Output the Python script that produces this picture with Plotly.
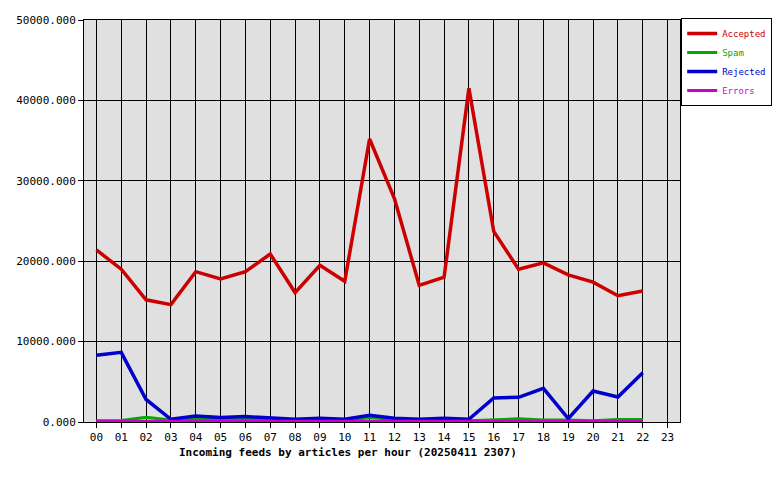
import plotly.graph_objects as go

hours = [f"{h:02d}" for h in range(24)]
data_hours = hours[:23]

accepted = [21400, 19000, 15200, 14600, 18700, 17800, 18700, 20900, 16100, 19500,
            17500, 35200, 27800, 17000, 18000, 41500, 23700, 19000, 19800, 18300,
            17400, 15700, 16300]
spam = [150, 200, 600, 250, 350, 300, 450, 300, 200, 250, 200, 550, 300, 200, 250,
        150, 250, 400, 250, 250, 150, 300, 300]
rejected = [8300, 8660, 2800, 340, 750, 550, 670, 460, 340, 460, 340, 830, 460,
            340, 460, 340, 2990, 3070, 4190, 420, 3860, 3110, 6140]
errors = [100] * 23

series = [
    ("Accepted", accepted, "#cc0000", 3.5),
    ("Spam", spam, "#00aa00", 3),
    ("Rejected", rejected, "#0000cc", 3.5),
    ("Errors", errors, "#cc00cc", 3),
]

fig = go.Figure()
for name, vals, color, w in series:
    fig.add_trace(go.Scatter(
        x=data_hours, y=vals, mode="lines",
        name=f"<span style='color:{color}'>{name}</span>",
        line=dict(color=color, width=w),
    ))

font = "DejaVu Sans Mono, Liberation Mono, monospace"
fig.update_layout(
    width=772, height=472,
    margin=dict(l=76, r=100, t=12, b=58, autoexpand=False),
    paper_bgcolor="white", plot_bgcolor="#e0e0e0",
    font=dict(family=font, size=11, color="black"),
    showlegend=True,
    legend=dict(x=1.002, y=1.005, xanchor="left", yanchor="top",
                bordercolor="black", borderwidth=1, bgcolor="white",
                font=dict(family=font, size=9),
                tracegroupgap=0, itemwidth=30),
    xaxis=dict(type="category", categoryorder="array", categoryarray=hours,
               tickvals=hours, range=[-0.5, 23.5],
               showgrid=True, gridcolor="black", gridwidth=1,
               showline=True, linecolor="black", mirror=True,
               ticks="outside", ticklen=5, tickcolor="black",
               zeroline=False),
    yaxis=dict(range=[0, 50000], dtick=10000, tickformat=".3f",
               showgrid=True, gridcolor="black", gridwidth=1,
               showline=True, linecolor="black", mirror=True,
               ticks="outside", ticklen=5, tickcolor="black",
               zeroline=False),
    annotations=[dict(text="<b>Incoming feeds by articles per hour (20250411 2307)</b>",
                      xref="paper", yref="paper", x=0.443, y=-0.055,
                      xanchor="center", yanchor="top", showarrow=False,
                      font=dict(family=font, size=11, color="black"))],
)

fig.write_html("out.html")
